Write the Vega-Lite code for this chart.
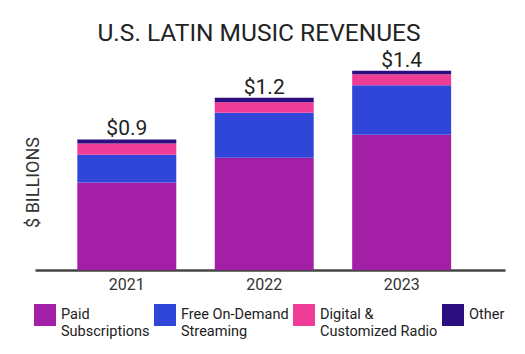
{
  "$schema": "https://vega.github.io/schema/vega-lite/v6.json",
  "width": 470,
  "height": 200,
  "autosize": {"type": "none"},
  "padding": {"left": 35, "top": 70, "right": 20, "bottom": 84},
  "background": "white",
  "title": {
    "text": "U.S. LATIN MUSIC REVENUES",
    "font": "Roboto",
    "fontSize": 24.5,
    "fontWeight": "normal",
    "color": "#222222",
    "anchor": "middle",
    "frame": "group",
    "baseline": "bottom",
    "offset": 10,
    "dy": 31,
    "dx": -11
  },
  "data": {
    "values": [
      {"year": "2021", "category": "Paid Subscriptions", "rank": 1, "value": 0.613},
      {"year": "2021", "category": "Free On-Demand Streaming", "rank": 2, "value": 0.194},
      {"year": "2021", "category": "Digital & Customized Radio", "rank": 3, "value": 0.079},
      {"year": "2021", "category": "Other", "rank": 4, "value": 0.028},
      {"year": "2022", "category": "Paid Subscriptions", "rank": 1, "value": 0.785},
      {"year": "2022", "category": "Free On-Demand Streaming", "rank": 2, "value": 0.315},
      {"year": "2022", "category": "Digital & Customized Radio", "rank": 3, "value": 0.075},
      {"year": "2022", "category": "Other", "rank": 4, "value": 0.030},
      {"year": "2023", "category": "Paid Subscriptions", "rank": 1, "value": 0.946},
      {"year": "2023", "category": "Free On-Demand Streaming", "rank": 2, "value": 0.348},
      {"year": "2023", "category": "Digital & Customized Radio", "rank": 3, "value": 0.077},
      {"year": "2023", "category": "Other", "rank": 4, "value": 0.023}
    ]
  },
  "encoding": {
    "x": {
      "field": "year",
      "type": "nominal",
      "scale": {"paddingInner": 0.28, "paddingOuter": 0.35, "align": 0.44},
      "axis": {
        "title": null,
        "labelAngle": 0,
        "labelFont": "Roboto",
        "labelFontSize": 16,
        "labelColor": "#333333",
        "labelPadding": 6,
        "ticks": false,
        "domainColor": "#444444",
        "domainWidth": 2.5
      }
    }
  },
  "layer": [
    {
      "mark": {"type": "bar"},
      "encoding": {
        "y": {
          "field": "value",
          "type": "quantitative",
          "aggregate": "sum",
          "stack": "zero",
          "scale": {"domain": [0, 1.4], "nice": false},
          "axis": {
            "title": "$ BILLIONS",
            "titleFont": "Roboto",
            "titleFontSize": 18,
            "titleFontWeight": "normal",
            "titleColor": "#333333",
            "titleX": -1.5,
            "titleY": 112,
            "titleAngle": -90,
            "titleBaseline": "middle",
            "titleAlign": "center",
            "domain": false,
            "ticks": false,
            "labels": false,
            "grid": false
          }
        },
        "color": {
          "field": "category",
          "type": "nominal",
          "sort": ["Paid Subscriptions", "Free On-Demand Streaming", "Digital & Customized Radio", "Other"],
          "scale": {
            "domain": ["Paid Subscriptions", "Free On-Demand Streaming", "Digital & Customized Radio", "Other"],
            "range": ["#a21fa6", "#2f46d9", "#ef3d97", "#2d0e7f"]
          },
          "legend": {
            "title": null,
            "orient": "none",
            "legendX": -1,
            "legendY": 234,
            "direction": "horizontal",
            "columns": 4,
            "columnPadding": 4,
            "symbolType": "square",
            "symbolSize": 484,
            "symbolStrokeWidth": 0,
            "symbolOpacity": 1,
            "labelFont": "Roboto",
            "labelFontSize": 14.5,
            "labelColor": "#222222",
            "labelOffset": 5,
            "labelLineHeight": 14,
            "labelBaseline": "middle",
            "labelLimit": 200,
            "labelExpr": "datum.label == 'Paid Subscriptions' ? ['Paid', 'Subscriptions'] : datum.label == 'Free On-Demand Streaming' ? ['Free On-Demand', 'Streaming'] : datum.label == 'Digital & Customized Radio' ? ['Digital &', 'Customized Radio'] : ['Other', '']"
          }
        },
        "order": {"field": "rank", "type": "quantitative", "sort": "ascending"}
      }
    },
    {
      "mark": {"type": "text", "baseline": "alphabetic", "dy": -4, "font": "Roboto", "fontSize": 21, "color": "#222222"},
      "encoding": {
        "y": {"field": "value", "type": "quantitative", "aggregate": "sum"},
        "text": {"field": "value", "type": "quantitative", "aggregate": "sum", "format": "$.1f"}
      }
    }
  ],
  "config": {
    "view": {"stroke": null}
  }
}
